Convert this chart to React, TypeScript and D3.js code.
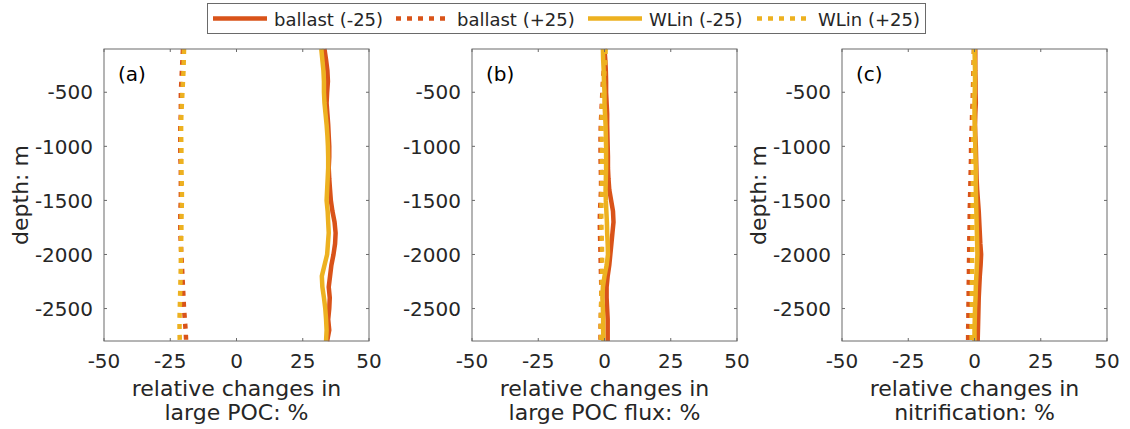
import React from "react";
import * as d3 from "d3";

const depth = [-100, -200, -300, -400, -500, -600, -700, -800, -900, -1000, -1100, -1200, -1300, -1400, -1500, -1600, -1700, -1800, -1900, -2000, -2100, -2200, -2300, -2400, -2500, -2600, -2700, -2800];

const aBallastM = [33.2, 33.8, 34.3, 34.5, 34.2, 34.0, 34.3, 34.6, 34.8, 35.0, 35.0, 34.8, 35.0, 35.3, 35.6, 36.2, 37.0, 37.4, 37.2, 36.6, 35.8, 35.3, 34.8, 35.2, 35.0, 34.6, 35.0, 34.2];
const aWLinM = [32.0, 32.4, 32.8, 33.0, 33.0, 33.2, 33.6, 34.0, 34.3, 34.5, 34.6, 34.6, 34.4, 34.2, 34.0, 34.4, 34.6, 34.8, 34.5, 34.2, 33.2, 32.2, 32.4, 33.0, 33.5, 33.8, 34.0, 33.8];
const aBallastP = [-20.2, -20.4, -20.6, -20.8, -21.0, -21.0, -21.0, -21.2, -21.2, -21.2, -21.2, -21.0, -21.0, -21.0, -21.0, -21.2, -21.2, -21.2, -21.0, -20.8, -20.6, -20.4, -20.2, -20.0, -19.8, -19.5, -19.2, -19.0];
const aWLinP = [-19.8, -19.9, -20.0, -20.2, -20.4, -20.6, -20.8, -20.9, -20.9, -20.8, -20.8, -20.8, -20.7, -20.6, -20.6, -20.7, -20.8, -20.8, -20.9, -21.0, -21.0, -21.1, -21.2, -21.3, -21.4, -21.5, -21.5, -21.4];

const bBallastM = [0.0, 0.3, 0.5, 0.6, 0.6, 0.8, 1.0, 1.0, 1.1, 1.2, 1.3, 1.3, 1.5, 1.8, 2.5, 3.2, 3.4, 3.0, 2.6, 2.2, 1.8, 1.2, 0.8, 0.8, 1.0, 1.2, 1.2, 1.2];
const bWLinM = [-0.6, -0.5, -0.3, -0.2, 0.0, 0.0, 0.2, 0.4, 0.5, 0.6, 0.6, 0.6, 0.5, 0.4, 0.5, 0.7, 0.9, 1.0, 1.2, 1.3, 0.8, 0.0, -0.6, -0.8, -0.6, -0.5, -0.5, -0.4];
const bBallastP = [0.2, 0.0, -0.3, -0.6, -0.8, -1.0, -1.2, -1.4, -1.5, -1.5, -1.5, -1.4, -1.3, -1.3, -1.5, -1.7, -1.8, -1.7, -1.6, -1.5, -1.4, -1.3, -1.2, -1.2, -1.3, -1.4, -1.5, -1.5];
const bWLinP = [0.4, 0.3, 0.0, -0.3, -0.5, -0.8, -1.0, -1.1, -1.1, -1.0, -1.0, -1.0, -1.0, -1.0, -1.1, -1.2, -1.2, -1.1, -1.0, -0.9, -0.9, -1.0, -1.1, -1.2, -1.3, -1.4, -1.4, -1.3];

const cBallastM = [0.3, 0.3, 0.3, 0.4, 0.4, 0.5, 0.3, 0.2, 0.3, 0.5, 0.6, 0.7, 0.8, 1.0, 1.3, 1.6, 1.8, 2.0, 2.2, 2.5, 2.3, 2.0, 1.8, 1.6, 1.5, 1.4, 1.3, 1.2];
const cWLinM = [0.0, 0.1, 0.2, 0.2, 0.1, 0.0, 0.0, 0.1, 0.2, 0.3, 0.4, 0.5, 0.5, 0.5, 0.6, 0.7, 0.8, 0.9, 1.0, 1.1, 0.9, 0.7, 0.5, 0.4, 0.2, 0.1, 0.0, 0.0];
const cBallastP = [-0.2, -0.3, -0.4, -0.5, -0.6, -0.7, -0.9, -1.0, -1.2, -1.3, -1.3, -1.4, -1.5, -1.6, -1.7, -1.8, -1.8, -1.9, -2.0, -2.0, -2.1, -2.1, -2.2, -2.2, -2.3, -2.3, -2.4, -2.4];
const cWLinP = [-0.2, -0.2, -0.2, -0.3, -0.3, -0.3, -0.4, -0.4, -0.5, -0.5, -0.5, -0.6, -0.6, -0.6, -0.7, -0.7, -0.8, -0.8, -0.8, -0.9, -0.9, -0.9, -1.0, -1.0, -1.0, -1.1, -1.1, -1.1];

const xTicks = [-50, -25, 0, 25, 50];
const yTicks = [-2500, -2000, -1500, -1000, -500];
const seriesNames = ["ballast (-25)", "ballast (+25)", "WLin (-25)", "WLin (+25)"];
const panelTags = ["(a)", "(b)", "(c)"];
const xLabels = [
  ["relative changes in", "large POC: %"],
  ["relative changes in", "large POC flux: %"],
  ["relative changes in", "nitrification: %"],
];
const showYLabel = [true, false, true];
const panelData = [
  [aBallastM, aBallastP, aWLinM, aWLinP],
  [bBallastM, bBallastP, bWLinM, bWLinP],
  [cBallastM, cBallastP, cWLinM, cWLinP],
];

const RED = "#D95319";
const YEL = "#EDB120";
const colors = [RED, RED, YEL, YEL];
const dashed = [false, true, false, true];
const TXT = "#262626";
const AX = "#6a6a6a";
const FONT = "DejaVu Sans, sans-serif";
const LW = 4.5;
const DASH = "5,6";

const panelLefts = [104, 472, 842];
const PW = 265;
const TOP = 49;
const BOT = 341;

function Panel({ idx }: { idx: number }) {
  const left = panelLefts[idx];
  const x = d3.scaleLinear().domain([-50, 50]).range([left, left + PW]);
  const y = d3.scaleLinear().domain([-2800, -100]).range([BOT, TOP]);
  const series = panelData[idx];
  return (
    <g>
      {series.map((vals, si) => {
        const line = d3
          .line<number>()
          .x((v) => x(v))
          .y((_, i) => y(depth[i]));
        return (
          <path
            key={si}
            d={line(vals) || ""}
            fill="none"
            stroke={colors[si]}
            strokeWidth={LW}
            strokeDasharray={dashed[si] ? DASH : undefined}
            strokeLinejoin="round"
          />
        );
      })}
      <rect x={left} y={TOP} width={PW} height={BOT - TOP} fill="none" stroke={AX} strokeWidth={1} />
      {xTicks.map((t) => (
        <g key={"xt" + t}>
          <line x1={x(t)} x2={x(t)} y1={BOT} y2={BOT - 3} stroke={AX} />
          <line x1={x(t)} x2={x(t)} y1={TOP} y2={TOP + 3} stroke={AX} />
          <text x={x(t)} y={368} textAnchor="middle" fontSize={20} fill={TXT} fontFamily={FONT}>
            {t}
          </text>
        </g>
      ))}
      {yTicks.map((t) => (
        <g key={"yt" + t}>
          <line x1={left} x2={left + 3} y1={y(t)} y2={y(t)} stroke={AX} />
          <line x1={left + PW} x2={left + PW - 3} y1={y(t)} y2={y(t)} stroke={AX} />
          <text x={left - 11} y={y(t)} dy="0.36em" textAnchor="end" fontSize={20} fill={TXT} fontFamily={FONT}>
            {t}
          </text>
        </g>
      ))}
      <text x={left + 14} y={81} fontSize={20} fill="#000" fontFamily={FONT}>
        {panelTags[idx]}
      </text>
      <text x={left + PW / 2} y={396} textAnchor="middle" fontSize={22} fill={TXT} fontFamily={FONT}>
        {xLabels[idx][0]}
      </text>
      <text x={left + PW / 2} y={420} textAnchor="middle" fontSize={22} fill={TXT} fontFamily={FONT}>
        {xLabels[idx][1]}
      </text>
      {showYLabel[idx] && (
        <text
          transform={`translate(${left - 76},${(TOP + BOT) / 2}) rotate(-90)`}
          textAnchor="middle"
          fontSize={22}
          fill={TXT}
          fontFamily={FONT}
        >
          depth: m
        </text>
      )}
    </g>
  );
}

function Legend() {
  const lineStarts = [213, 396, 588, 757];
  const lineLen = 54;
  return (
    <g>
      <rect x={207.5} y={3.5} width={718} height={30} fill="#fff" stroke={AX} strokeWidth={1} />
      {seriesNames.map((n, i) => (
        <g key={n}>
          <line
            x1={lineStarts[i]}
            x2={lineStarts[i] + lineLen}
            y1={18.5}
            y2={18.5}
            stroke={colors[i]}
            strokeWidth={LW}
            strokeDasharray={dashed[i] ? DASH : undefined}
          />
          <text x={lineStarts[i] + lineLen + 7} y={25.5} fontSize={18} fill={TXT} fontFamily={FONT}>
            {n}
          </text>
        </g>
      ))}
    </g>
  );
}

export default function App() {
  return (
    <svg
      width={1130}
      height={429}
      style={{ position: "absolute", left: 0, top: 0, background: "#fff" }}
    >
      <rect x={0} y={0} width={1130} height={429} fill="#fff" />
      {[0, 1, 2].map((i) => (
        <Panel key={i} idx={i} />
      ))}
      <Legend />
    </svg>
  );
}
